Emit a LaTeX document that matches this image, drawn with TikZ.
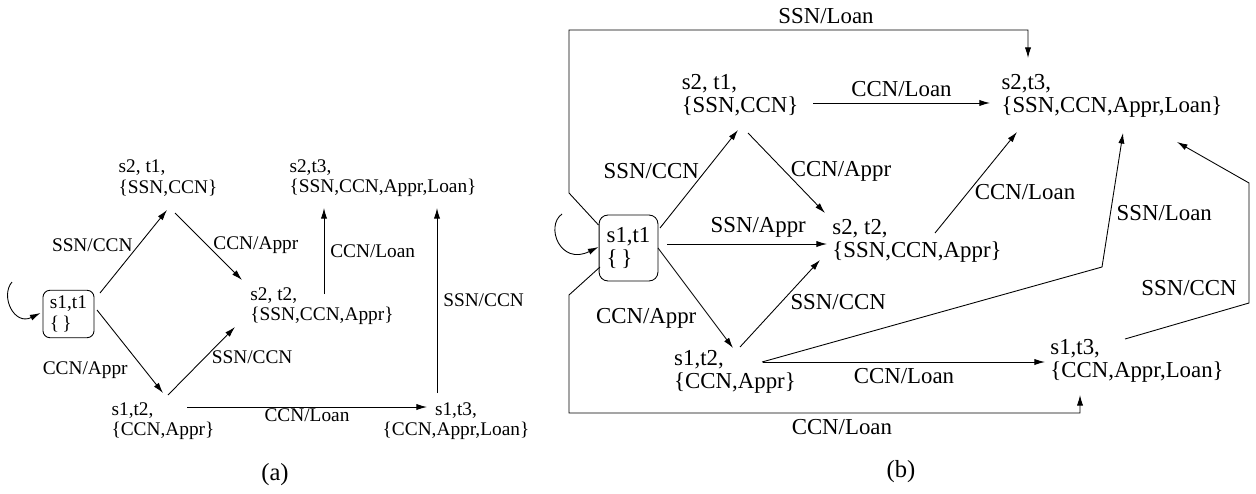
\documentclass[tikz,border=0pt]{standalone}
\usepackage{fontspec}
\setmainfont{Liberation Serif}
\usetikzlibrary{positioning,arrows.meta,calc}

\begin{document}
\begin{tikzpicture}[
    x=0.02cm, y=-0.02cm,
    state/.style={rectangle, draw, line width=0.5pt, rounded corners=4pt, align=left, inner sep=0pt},
    txt/.style={align=left, inner sep=0pt},
    arrow/.style={-{Latex[length=6pt,width=3.5pt]}, line width=0.5pt}
]
\useasboundingbox (0,0) rectangle (1256,493);

% (a)
\begin{scope}[font=\fontsize{11}{11.5}\selectfont]
% States
\node[state, minimum width=29pt, minimum height=27pt, inner xsep=4pt] (a11) at (68.5,314) {s1,t1\\\{\,\}};
\node[txt] (a21) at (168,178) {s2, t1,\\\{SSN,CCN\}};
\node[txt] (a22) at (322,306) {s2, t2,\\\{SSN,CCN,Appr\}};
\node[txt] (a23) at (383,178) {s2,t3,\\\{SSN,CCN,Appr,Loan\}};
\node[txt] (a12) at (163,421) {s1,t2,\\\{CCN,Appr\}};
\node[txt, align=center] (a13) at (456,421) {s1,t3,\\\{CCN,Appr,Loan\}};
\node (acap) at (275,475) {\fontsize{14}{14}\selectfont (a)};

% Self loop
\coordinate (aloop) at (12,282);
\draw[arrow] (aloop) .. controls (0,296) and (14,326) .. ($(a11)+(-28,-1)$);

% Transitions
\draw[arrow] ($(a11)+(31.5,-21)$) -- node[left, pos=0.58] {SSN/CCN} ($(a21)+(-1,32)$);
\draw[arrow] ($(a21)+(7,35)$) -- node[right, pos=0.48] {CCN/Appr} ($(a22)+(-80,-26)$);
\draw[arrow] ($(a11)+(28.5,-4)$) -- node[left=6pt, pos=0.72] {CCN/Appr} ($(a12)+(0,-28)$);
\draw[arrow] ($(a12)+(5,-26)$) -- node[right, pos=0.56] {SSN/CCN} ($(a22)+(-87,21)$);
\draw[arrow] ($(a22)+(2,-12)$) -- node[right] {CCN/Loan} ($(a23)+(-59,30)$);
\draw[arrow] ($(a12)+(24,-14)$) -- node[below, inner sep=1pt] {CCN/Loan} ($(a13)+(-29,-14)$);
\draw[arrow] ($(a13)+(-19,-28)$) -- node[right] {SSN/CCN} ($(a23)+(54,30)$);
\end{scope}

% (b)
\begin{scope}[font=\fontsize{13}{13}\selectfont]
% States
\node[state, minimum width=33.5pt, minimum height=37.5pt, rounded corners=5pt] (b11) at (628.5,248) {s1,t1\\\{\,\}};
\node[txt] (b21) at (740,95) {s2, t1,\\\{SSN,CCN\}};
\node[txt] (b22) at (917,241) {s2, t2,\\\{SSN,CCN,Appr\}};
\node[txt] (b23) at (1112,96) {s2,t3,\\\{SSN,CCN,Appr,Loan\}};
\node[txt] (b12) at (735,372) {s1,t2,\\\{CCN,Appr\}};
\node[txt] (b13) at (1137,361) {s1,t3,\\\{CCN,Appr,Loan\}};
\node (bcap) at (901,472) {\fontsize{14}{14}\selectfont (b)};

% Self loop
\coordinate (bloop) at (562,214);
\draw[arrow] (bloop) .. controls (545,226) and (560,266) .. ($(b11)+(-30,-1)$);

% Bends of the long transitions
\coordinate (bturn1) at (1102,267);
\coordinate (bturn2) at (1249,303);
\coordinate (bturn3) at (1249,183);
\coordinate (btop1) at (569,193);
\coordinate (btop2) at (569,30);
\coordinate (btop3) at (1028,30);
\coordinate (bbot1) at (569,295);
\coordinate (bbot2) at (569,413);
\coordinate (bbot3) at (1080,413);

% Transitions
\draw[arrow] ($(b11)+(31.5,-20)$) -- node[left, pos=0.58] {SSN/CCN} ($(b21)+(-2,35)$);
\draw[arrow] ($(b21)+(8,38)$) -- node[right, pos=0.475] {CCN/Appr} ($(b22)+(-92,-28)$);
\draw[arrow] ($(b21)+(73,8)$) -- node[above] {CCN/Loan} ($(b23)+(-122,7)$);
\draw[arrow] ($(b11)+(38.5,-4)$) -- node[above, pos=0.57] {SSN/Appr} ($(b22)+(-90,3)$);
\draw[arrow] ($(b11)+(29.5,0)$) -- node[left=4.5pt, pos=0.7] {CCN/Appr} ($(b12)+(-2,-24)$);
\draw[arrow] ($(b12)+(5,-25)$) -- node[right=1.5pt, pos=0.52] {SSN/CCN} ($(b22)+(-97,19)$);
\draw[arrow] ($(b22)+(18,-8)$) -- node[right, pos=0.41] {CCN/Loan} ($(b23)+(-95,36)$);
\draw[arrow] ($(b12)+(28,-10)$) -- node[below] {CCN/Loan} ($(b13)+(-92,1)$);
\draw[arrow] ($(b12)+(27,-10)$) -- (bturn1) -- node[right, pos=0.4] {SSN/Loan} ($(b23)+(11,37)$);
\draw[arrow] ($(b13)+(-12,-22)$) -- (bturn2) -- node[left=3.5pt, pos=0.125] {SSN/CCN} (bturn3) -- ($(b23)+(65,46)$);
\draw[arrow] ($(b11)+(-30,-23)$) -- (btop1) -- (btop2) -- node[above, pos=0.56] {SSN/Loan} (btop3) -- ($(b23)+(-84,-38)$);
\draw[arrow] ($(b11)+(-28.5,19)$) -- (bbot1) -- (bbot2) -- node[below, pos=0.534] {CCN/Loan} (bbot3) -- ($(b13)+(-57,34)$);
\end{scope}

\end{tikzpicture}
\end{document}
